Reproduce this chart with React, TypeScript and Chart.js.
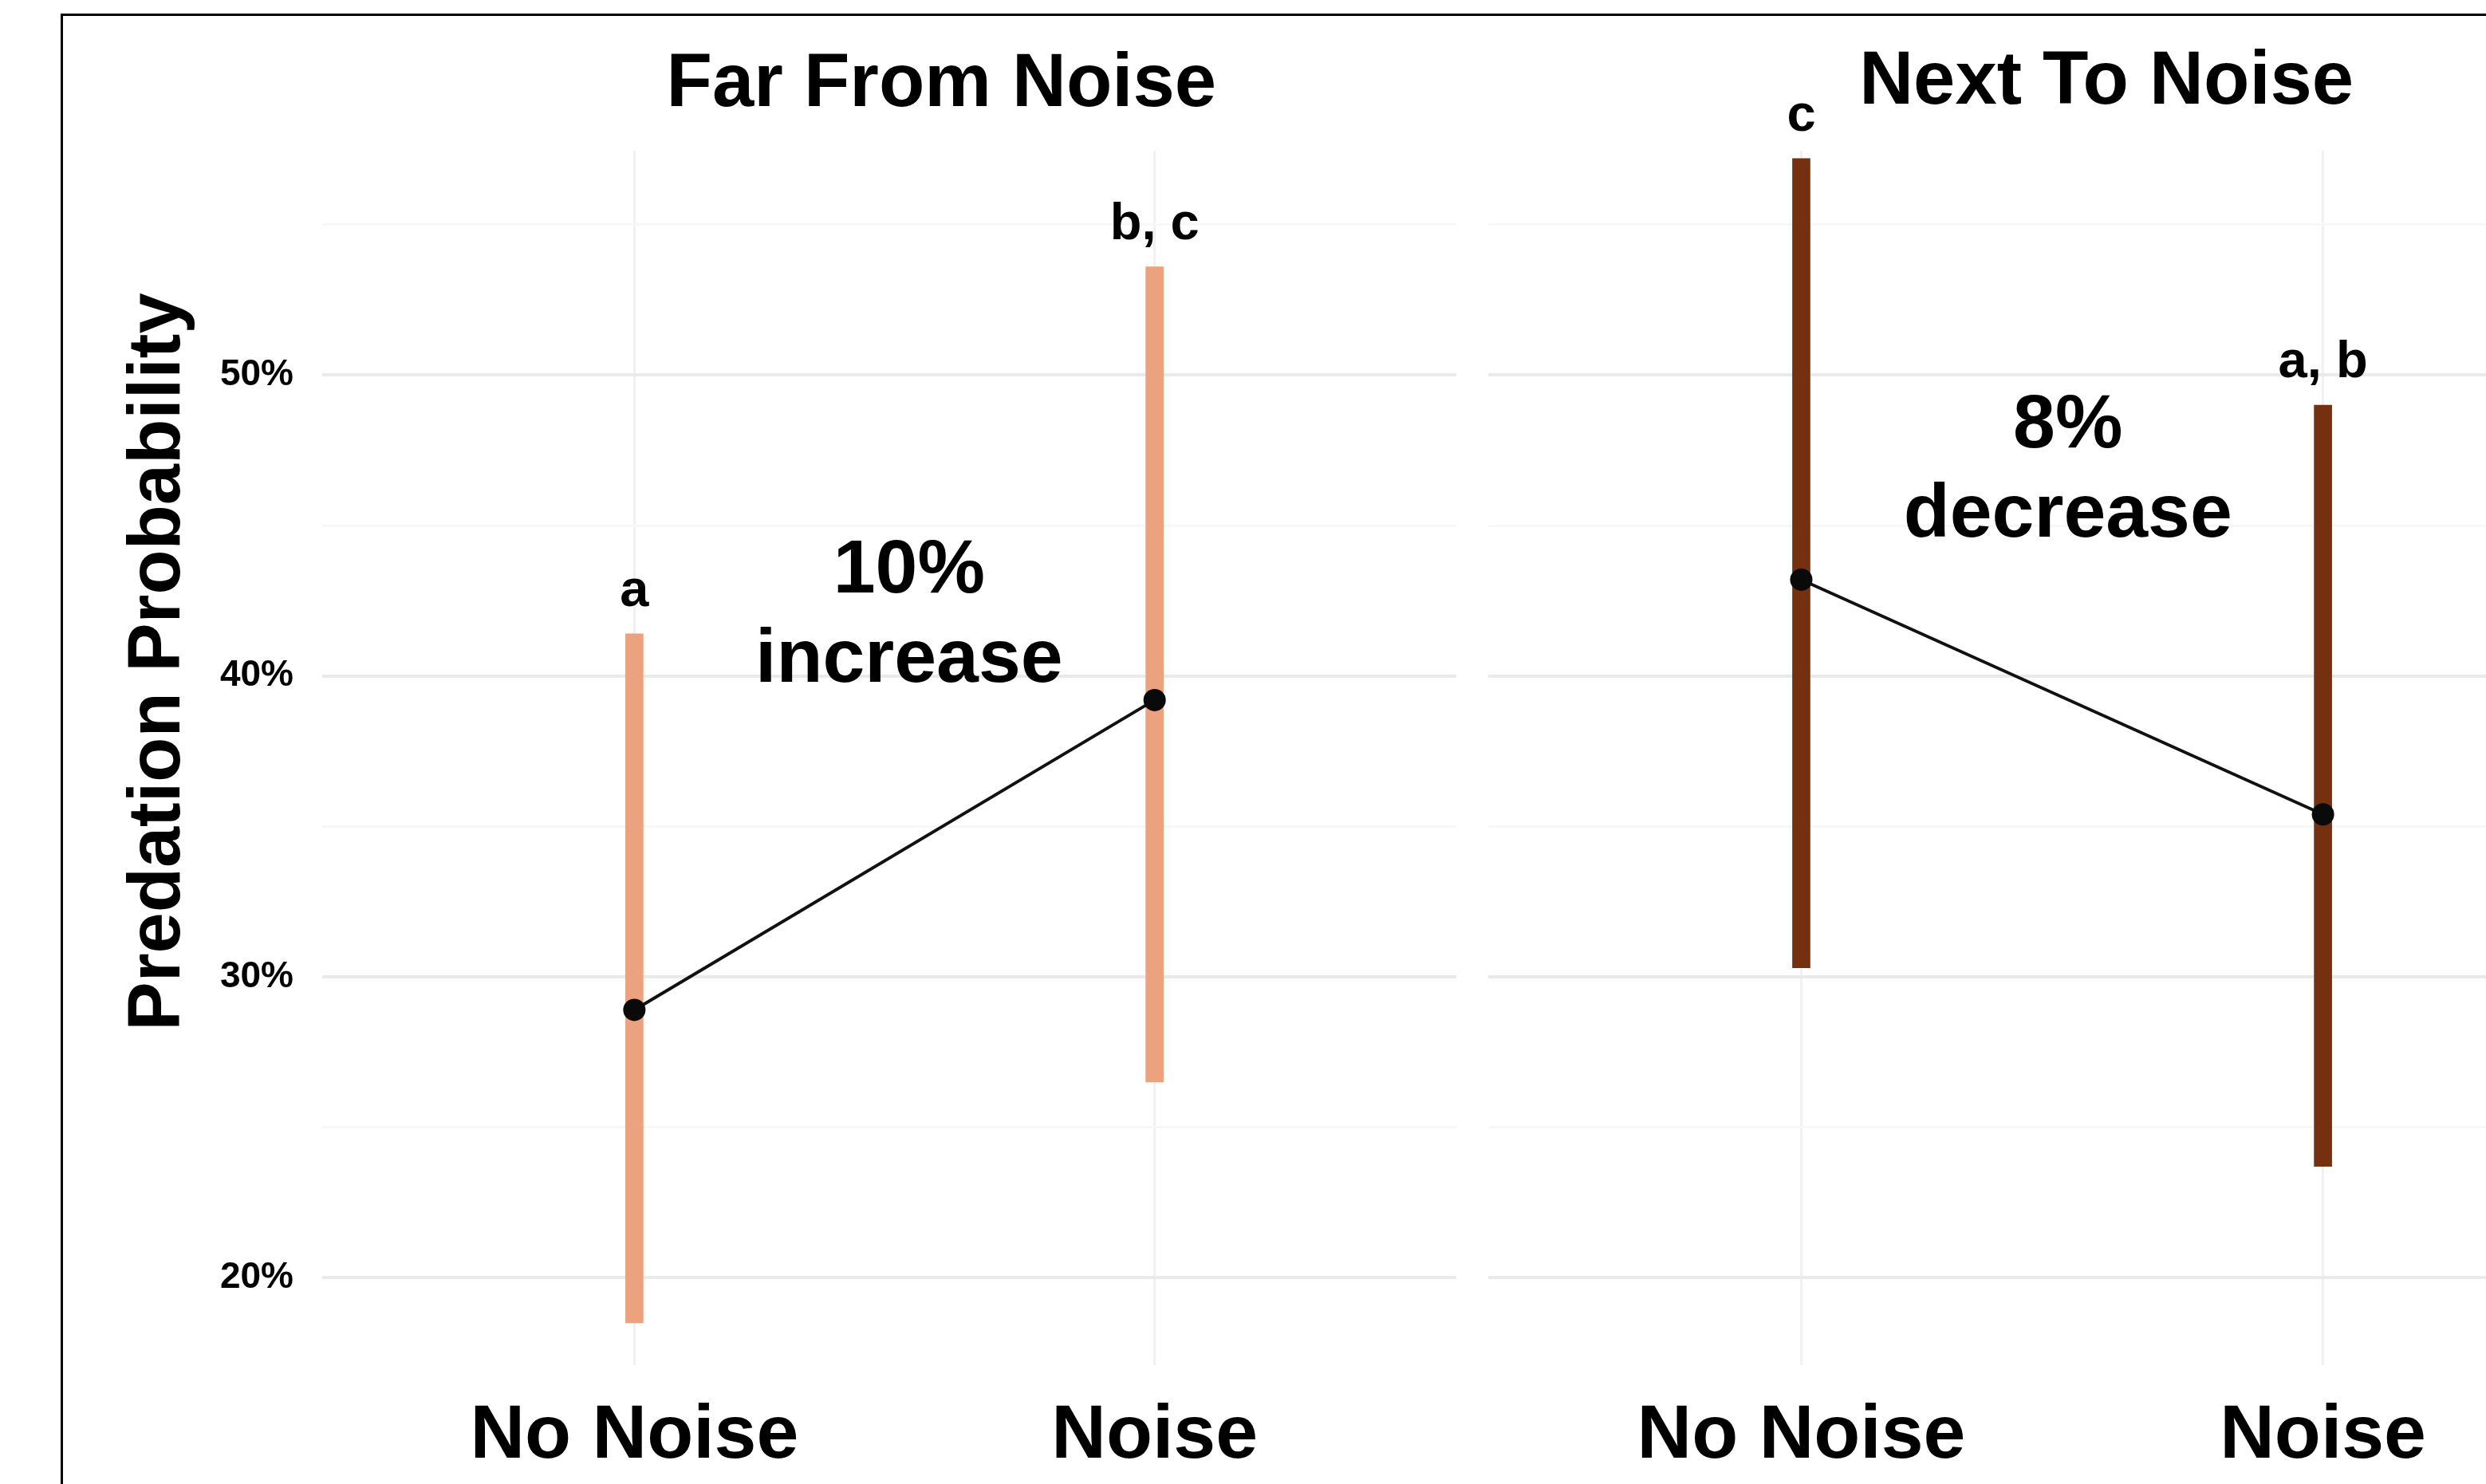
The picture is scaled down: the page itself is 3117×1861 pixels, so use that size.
import React, { useEffect, useRef } from 'react';
import { Chart, registerables } from 'chart.js';

Chart.register(...registerables);

// ---------------- data ----------------
const categories = ['No Noise', 'Noise'];
const panelTitles = ['Far From Noise', 'Next To Noise'];
const farMeans = [28.9, 39.2];
const farLower = [18.5, 26.5];
const farUpper = [41.4, 53.6];
const nextMeans = [43.2, 35.4];
const nextLower = [30.3, 23.7];
const nextUpper = [57.2, 49.0];
const farLetters = ['a', 'b, c'];
const nextLetters = ['c', 'a, b'];
const farEffect = ['10%', 'increase'];
const nextEffect = ['8%', 'decrease'];
const yTickValues = [20, 30, 40, 50];
const yAxisTitle = 'Predation Probability';

// ---------------- styling / layout ----------------
const FONT = '"Liberation Sans", Arial, Helvetica, sans-serif';
const W = 3117;
const H = 1861;
const FAR_COLOR = '#EDA27F';
const NEXT_COLOR = '#74300F';
const Y_MIN = 17.09;
const Y_MAX = 57.46;
const X_MIN = 0.4;
const X_MAX = 2.58;
const PLOT_TOP = 189;
const PLOT_BOTTOM = 1712;

const annotationPlugin = {
  id: 'panelAnnotations',
  afterDatasetsDraw(chart: any, _args: any, opts: any) {
    const { ctx } = chart;
    const x = chart.scales.x;
    const y = chart.scales.y;
    ctx.save();
    ctx.fillStyle = '#000';
    ctx.textAlign = 'center';
    // significance letters
    ctx.font = `bold 65px ${FONT}`;
    ctx.textBaseline = 'alphabetic';
    opts.letters.forEach((t: string, i: number) => {
      ctx.fillText(t, x.getPixelForValue(i + 1), y.getPixelForValue(opts.upper[i]) - 35);
    });
    // effect text
    ctx.font = `bold 95px ${FONT}`;
    const ex = x.getPixelForValue(opts.effectX);
    const ey = y.getPixelForValue(opts.effectY);
    opts.effect.forEach((t: string, k: number) => ctx.fillText(t, ex, ey + k * 112));
    // panel title
    ctx.font = `bold 94px ${FONT}`;
    ctx.textBaseline = 'middle';
    ctx.fillText(opts.title, x.getPixelForValue(opts.titleX), opts.titleY);
    // y axis title
    if (opts.yTitle) {
      ctx.translate(opts.yTitleBaselineX, opts.yTitleCenterY);
      ctx.rotate(-Math.PI / 2);
      ctx.textBaseline = 'alphabetic';
      ctx.font = `bold 92px ${FONT}`;
      ctx.fillText(opts.yTitle, 0, 0);
    }
    ctx.restore();
  },
};

function makeChart(
  canvas: HTMLCanvasElement,
  means: number[],
  lower: number[],
  upper: number[],
  color: string,
  isLeft: boolean,
  ann: any
) {
  return new Chart(canvas, {
    type: 'bar',
    data: {
      datasets: [
        {
          type: 'line',
          data: means.map((m, i) => ({ x: i + 1, y: m })),
          borderColor: '#111',
          borderWidth: 4,
          pointRadius: 14,
          pointBackgroundColor: '#0a0a0a',
          pointBorderColor: '#0a0a0a',
          pointBorderWidth: 0,
          order: 0,
        } as any,
        {
          type: 'bar',
          data: lower.map((l, i) => ({ x: i + 1, y: [l, upper[i]] })),
          backgroundColor: color,
          borderWidth: 0,
          barThickness: 22,
          order: 1,
        } as any,
      ],
    },
    options: {
      animation: false,
      responsive: false,
      maintainAspectRatio: false,
      layout: {
        padding: { top: PLOT_TOP, left: isLeft ? 0 : 20, right: 2, bottom: 0 },
      },
      plugins: {
        legend: { display: false },
        tooltip: { enabled: false },
        title: { display: false },
        panelAnnotations: ann,
      } as any,
      scales: {
        x: {
          type: 'linear',
          min: X_MIN,
          max: X_MAX,
          offset: false,
          border: { display: false },
          grid: { color: '#F1F1F1', lineWidth: 3, drawTicks: false, offset: false },
          ticks: {
            stepSize: 1,
            includeBounds: false,
            autoSkip: false,
            maxRotation: 0,
            padding: 33,
            color: '#000',
            font: { family: FONT, size: 95, weight: 'bold' },
            callback: (v: any) => categories[Number(v) - 1] ?? '',
          },
          afterFit: (s: any) => {
            s.height = H - PLOT_BOTTOM;
          },
        } as any,
        y: {
          type: 'linear',
          min: Y_MIN,
          max: Y_MAX,
          border: { display: false },
          grid: {
            drawTicks: false,
            color: (c: any) => (c.tick && c.tick.value % 10 === 0 ? '#EAEAEA' : '#F7F7F7'),
            lineWidth: (c: any) => (c.tick && c.tick.value % 10 === 0 ? 4 : 3),
          },
          ticks: {
            display: isLeft,
            stepSize: 5,
            includeBounds: false,
            padding: 36,
            color: '#000',
            font: { family: FONT, size: 46, weight: 'bold' },
            callback: (v: any) => (yTickValues.includes(Number(v)) ? `${v}%` : ''),
          },
          afterFit: (s: any) => {
            s.width = isLeft ? 404 : 0;
          },
        } as any,
      },
    },
    plugins: [annotationPlugin],
  });
}

export default function App() {
  const leftRef = useRef<HTMLCanvasElement>(null);
  const rightRef = useRef<HTMLCanvasElement>(null);

  useEffect(() => {
    const c1 = makeChart(leftRef.current!, farMeans, farLower, farUpper, FAR_COLOR, true, {
      letters: farLetters,
      upper: farUpper,
      effect: farEffect,
      effectX: 1.528,
      effectY: 42.78,
      title: panelTitles[0],
      titleX: 1.59,
      titleY: 107,
      yTitle: yAxisTitle,
      yTitleBaselineX: 225,
      yTitleCenterY: 830,
    });
    const c2 = makeChart(rightRef.current!, nextMeans, nextLower, nextUpper, NEXT_COLOR, false, {
      letters: nextLetters,
      upper: nextUpper,
      effect: nextEffect,
      effectX: 1.511,
      effectY: 47.6,
      title: panelTitles[1],
      titleX: 1.585,
      titleY: 104,
    });
    return () => {
      c1.destroy();
      c2.destroy();
    };
  }, []);

  return (
    <div
      style={{
        position: 'absolute',
        left: 0,
        top: 0,
        width: W,
        height: H,
        overflow: 'hidden',
        background: '#fff',
      }}
    >
      <canvas
        ref={leftRef}
        width={1840}
        height={H}
        style={{ position: 'absolute', left: 0, top: 0, width: 1840, height: H }}
      />
      <canvas
        ref={rightRef}
        width={1460}
        height={H}
        style={{ position: 'absolute', left: 1846, top: 0, width: 1460, height: H }}
      />
      <div
        style={{
          position: 'absolute',
          left: 76,
          top: 17,
          width: W,
          height: H,
          borderTop: '3px solid #000',
          borderLeft: '3px solid #000',
          pointerEvents: 'none',
        }}
      />
    </div>
  );
}
